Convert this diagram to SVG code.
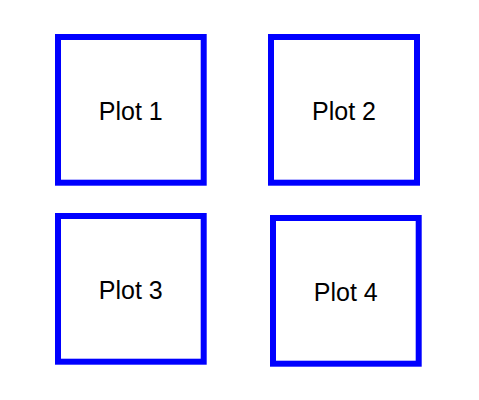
<svg xmlns="http://www.w3.org/2000/svg" width="479" height="400" viewBox="0 0 479 400">
<style>
.box{fill:#fff;stroke:#0000ff;stroke-width:6}
.lbl{font-family:"Liberation Sans",Arial,sans-serif;font-size:25px;fill:#000;text-anchor:middle}
</style>
<rect width="479" height="400" fill="#fff"/>
<g id="plot1"><rect class="box" x="58" y="37" width="145.7" height="145.7"/><text class="lbl" x="130.8" y="119.5">Plot 1</text></g>
<g id="plot2"><rect class="box" x="271" y="37" width="146" height="145.7"/><text class="lbl" x="344" y="119.5">Plot 2</text></g>
<g id="plot3"><rect class="box" x="58" y="216" width="145.7" height="145.7"/><text class="lbl" x="130.8" y="298.5">Plot 3</text></g>
<g id="plot4"><rect class="box" x="273" y="218" width="145.7" height="145.7"/><text class="lbl" x="345.8" y="300.5">Plot 4</text></g>
<g id="connectors"></g>
</svg>
